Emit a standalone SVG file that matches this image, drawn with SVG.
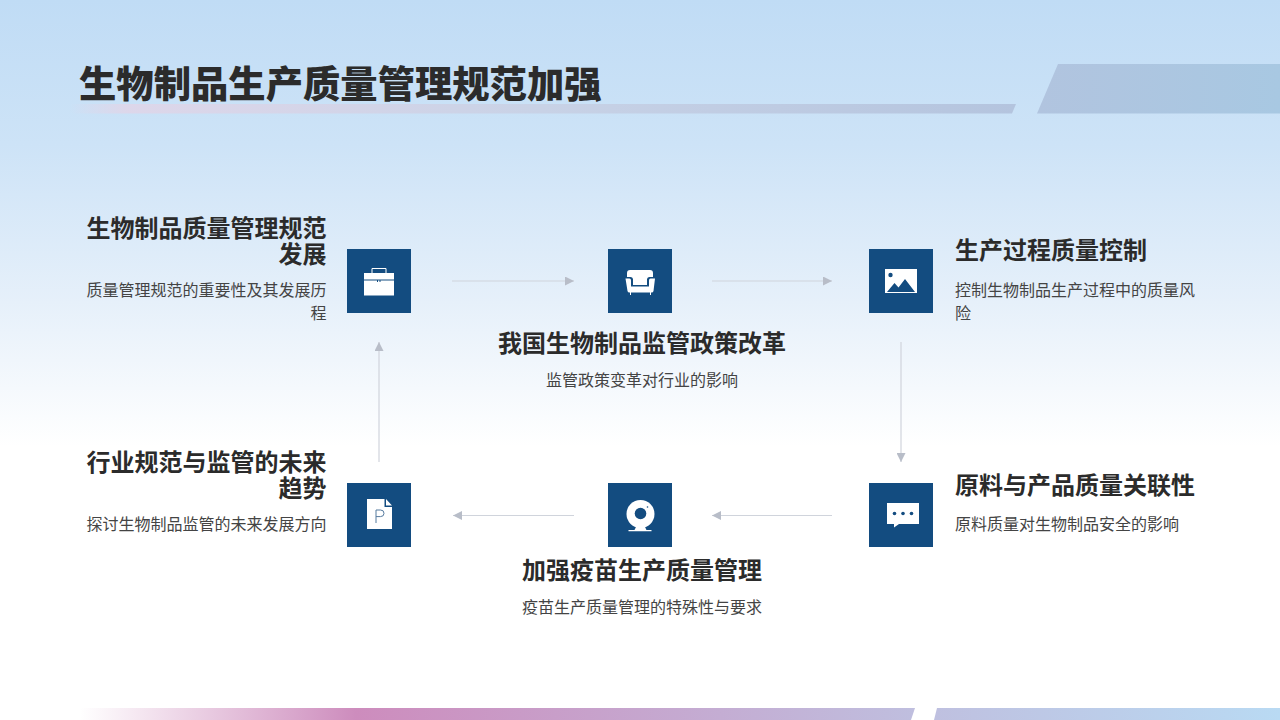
<svg xmlns="http://www.w3.org/2000/svg" width="1280" height="720" viewBox="0 0 1280 720">
<style>
text{font-family:"Noto Sans CJK SC","Noto Sans",sans-serif;fill:#2b2b2b}
.t{font-size:24px;font-weight:700}
.d{font-size:16px;fill:#444}
.e{text-anchor:end}.m{text-anchor:middle}
.box{fill:#134c80}
.w{fill:#fff}
.c line{stroke:#d0d4dc;stroke-width:1.2}
.c{fill:none}
</style>
<defs>
<linearGradient id="bg" x1="0" y1="0" x2="0" y2="1"><stop offset="0" stop-color="#c0dcf5"/><stop offset="0.2" stop-color="#cde3f7"/><stop offset="0.42" stop-color="#e6f0fa"/><stop offset="0.62" stop-color="#ffffff"/><stop offset="1" stop-color="#ffffff"/></linearGradient>
<linearGradient id="bar" x1="0" y1="0" x2="1" y2="0"><stop offset="0" stop-color="#e4d4e6" stop-opacity="0"/><stop offset="0.06" stop-color="#e0d5e8" stop-opacity=".85"/><stop offset="0.5" stop-color="#c8d2e6"/><stop offset="1" stop-color="#b4c4de"/></linearGradient>
<linearGradient id="bar2" x1="0" y1="0" x2="1" y2="0"><stop offset="0" stop-color="#b1c4df"/><stop offset="1" stop-color="#a8c8e2"/></linearGradient>
<linearGradient id="foot" gradientUnits="userSpaceOnUse" x1="80" y1="0" x2="1280" y2="0"><stop offset="0" stop-color="#cf8fbe" stop-opacity="0"/><stop offset="0.23" stop-color="#cd8cbd"/><stop offset="0.7" stop-color="#bfbfdf"/><stop offset="1" stop-color="#b9daf3"/></linearGradient>
<marker id="a" viewBox="0 0 10 10" refX="10" refY="5" markerWidth="9" markerHeight="9" markerUnits="userSpaceOnUse" orient="auto"><path d="M0 0L10 5L0 10Z" fill="#b8bdc8"/></marker>
</defs>
<rect width="1280" height="720" fill="url(#bg)"/>
<g id="header">
<polygon points="70,104 1016,104 1012,113.500 70,113.500" fill="url(#bar)"/>
<polygon points="1058,64 1280,64 1280,113.500 1037,113.500" fill="url(#bar2)"/>
<text x="79" y="98" style="font-size:37.330px;font-weight:900">生物制品生产质量管理规范加强</text>
</g>
<g id="footer">
<polygon points="80,708 915,708 911,720 80,720" fill="url(#foot)"/>
<polygon points="937,708 1280,708 1280,720 934,720" fill="url(#foot)"/>
</g>
<g class="c" id="connectors">
<line x1="452" y1="281" x2="574" y2="281" marker-end="url(#a)"/>
<line x1="712" y1="281" x2="832" y2="281" marker-end="url(#a)"/>
<line x1="901" y1="342" x2="901" y2="462" marker-end="url(#a)"/>
<line x1="832" y1="515.500" x2="712" y2="515.500" marker-end="url(#a)"/>
<line x1="574" y1="515.500" x2="453" y2="515.500" marker-end="url(#a)"/>
<line x1="379" y1="462" x2="379" y2="342" marker-end="url(#a)"/>
</g>
<g id="node1">
<rect class="box" x="347" y="249" width="64" height="64"/>
<path class="w" d="M364 280.500h13v1.500h1v-1.500h1.500v1.500h1v-1.500h13.500v15h-30zM364 273h30v6.500h-30z"/>
<path d="M372 273v-4.500h14v4.500" fill="none" stroke="#fff" stroke-width="1"/>
<text class="t e" x="326.500" y="237">生物制品质量管理规范<tspan x="326.500" dy="26">发展</tspan></text>
<text class="d e" x="326.500" y="296">质量管理规范的重要性及其发展历<tspan x="326.500" dy="23">程</tspan></text>
</g>
<g id="node2">
<rect class="box" x="608" y="249" width="64" height="64"/>
<path class="w" d="M630 270h20q3 0 3 3v4h-3.500q-2 0-2.500 2v6h-14v-6q-.5-2-2.500-2h-3.500v-4q0-3 3-3z"/>
<path class="w" d="M625.500 278.500h4q1.500 0 1.500 2v6h18v-6q0-2 1.500-2h4.500l-1.500 12.500q-.3 1.500-2 1.500h-.5v2.500h-1v-2.500h-19v2.500h-1v-2.500h-.5q-1.700 0-2-1.500z"/>
<text class="t m" x="642" y="352">我国生物制品监管政策改革</text>
<text class="d m" x="642" y="386">监管政策变革对行业的影响</text>
</g>
<g id="node3">
<rect class="box" x="869" y="249" width="64" height="64"/>
<path class="w" d="M885 269h32v24h-32z"/>
<circle cx="890.500" cy="275" r="2.200" fill="#134c80"/>
<path d="M887 292l7.500-9 4 4.500 6.500-8.500 10 13z" fill="#134c80"/>
<text class="t" x="955" y="259">生产过程质量控制</text>
<text class="d" x="955" y="296">控制生物制品生产过程中的质量风<tspan x="955" dy="23">险</tspan></text>
</g>
<g id="node4">
<rect class="box" x="869" y="483" width="64" height="64"/>
<path class="w" d="M887 503h32v21h-20l-5 3.500v-3.500h-7z"/>
<circle cx="894.500" cy="513.500" r="1.800" fill="#134c80"/><circle cx="903" cy="513.500" r="1.800" fill="#134c80"/><circle cx="911.500" cy="513.500" r="1.800" fill="#134c80"/>
<text class="t" x="955" y="494">原料与产品质量关联性</text>
<text class="d" x="955" y="530">原料质量对生物制品安全的影响</text>
</g>
<g id="node5">
<rect class="box" x="608" y="483" width="64" height="64"/>
<circle cx="640.500" cy="514" r="14" class="w"/>
<circle cx="640.500" cy="513.500" r="5.800" fill="#134c80"/>
<circle cx="647.500" cy="507" r=".8" fill="#134c80"/>
<path class="w" d="M636 527h9l1.500 3h5v1.200h-23v-1.200h6z"/>
<text class="t m" x="642" y="579">加强疫苗生产质量管理</text>
<text class="d m" x="642" y="613">疫苗生产质量管理的特殊性与要求</text>
</g>
<g id="node6">
<rect class="box" x="347" y="483" width="64" height="64"/>
<path class="w" d="M367 499h17.500v8h7.500v22h-25zM386 499l6 6.500h-6z"/>
<path d="M376 523v-13h4.500q3.500 0 3.500 3.300t-3.500 3.300h-4.500" fill="none" stroke="#557a9e" stroke-width="1"/>
<text class="t e" x="326.500" y="471">行业规范与监管的未来<tspan x="326.500" dy="26">趋势</tspan></text>
<text class="d e" x="326.500" y="530">探讨生物制品监管的未来发展方向</text>
</g>
</svg>
